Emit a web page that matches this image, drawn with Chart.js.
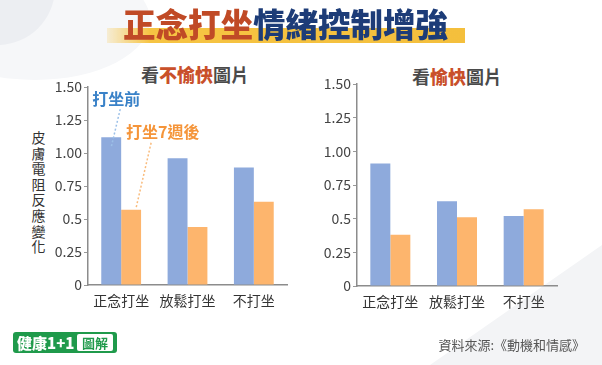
<!DOCTYPE html>
<html>
<head>
<meta charset="utf-8">
<script src="https://cdn.jsdelivr.net/npm/chart.js@4"></script>
<style>
  html, body { margin:0; padding:0; background:#fff; }
  #wrap { position:relative; width:602px; height:365px; overflow:hidden; background:#fff;
          font-family:"Noto Sans CJK TC","Noto Sans",sans-serif; }
  .blob { position:absolute; left:-60px; top:-70px; width:115px; height:115px; border-radius:50%; background:#eceef2; }
  .blob2 { position:absolute; left:-80px; top:-40px; width:230px; height:120px; border-radius:50%; background:#f6f7f9; }
  .tri { position:absolute; left:0; top:0; width:602px; height:365px; background:#f3f4f6;
         clip-path: polygon(602px 245px, 602px 365px, 430px 365px); }
  canvas { position:absolute; left:0; top:0; }
  #title { position:absolute; left:123px; top:-1px; font-size:32.5px; font-weight:900; white-space:nowrap; z-index:2; }
  #hl { position:absolute; left:107px; top:28px; width:358px; height:15px;
        background:linear-gradient(to right, rgba(246,196,67,0.2), #f6c443 12%, #f4bf3c 100%); z-index:1; }
  .sub { position:absolute; font-size:18px; font-weight:bold; color:#4a4a4a; white-space:nowrap; transform:translateX(-50%); }
  .sub b { color:#c9502a; }
  #ytitle { position:absolute; left:31px; top:130px; width:15px; font-size:14px; line-height:15.6px; color:#333; text-align:center; }
  #logo { position:absolute; left:13px; top:332px; width:104px; height:21px; background:#1f9a4b; border-radius:3px; }
  #logo .a { position:absolute; left:4px; top:0px; font-size:15px; line-height:21px; font-weight:900; color:#fff; white-space:nowrap; }
  #logo .b { position:absolute; left:64px; top:2px; width:36px; height:17px; background:#fff; border-radius:2px; font-size:13px; line-height:17px; color:#1f9a4b; text-align:center; font-weight:bold; }
  #src { position:absolute; right:17px; top:335px; font-size:13px; color:#555; white-space:nowrap; }
</style>
</head>
<body>
<div id="wrap">
  <div class="blob2"></div>
  <div class="blob"></div>
  <div class="tri"></div>
  <div id="hl"></div>
  <div id="title"><span style="color:#c04a26">正念打坐</span><span style="color:#1d3c78">情緒控制增強</span></div>
  <div class="sub" style="left:195px; top:61px;">看<b>不愉快</b>圖片</div>
  <div class="sub" style="left:457px; top:63px;">看<b>愉快</b>圖片</div>
  <div id="ytitle">皮<br>膚<br>電<br>阻<br>反<br>應<br>變<br>化</div>
  <canvas id="c1" width="602" height="365"></canvas>
  <canvas id="c2" width="602" height="365"></canvas>
  <div id="logo"><span class="a">健康1+1</span><span class="b">圖解</span></div>
  <div id="src">資料來源:《動機和情感》</div>
</div>
<script>
const categories = ["正念打坐", "放鬆打坐", "不打坐"];
const seriesNames = ["打坐前", "打坐7週後"];
const unpleasantBefore = [1.12, 0.96, 0.89];
const unpleasantAfter  = [0.57, 0.44, 0.63];
const pleasantBefore   = [0.91, 0.63, 0.52];
const pleasantAfter    = [0.38, 0.51, 0.57];
const tickValues = [0, 0.25, 0.5, 0.75, 1.0, 1.25, 1.5];
const tickLabels = ["0", "0.25", "0.5", "0.75", "1.00", "1.25", "1.50"];

const BLUE = "#8eaadc";
const ORANGE = "#fdb56d";
const FONT = "'Noto Sans CJK TC', 'Noto Sans', sans-serif";

function tickText(v) {
  const i = tickValues.findIndex(t => Math.abs(t - v) < 1e-6);
  return i >= 0 ? tickLabels[i] : "";
}

function makeOptions(padding) {
  return {
    responsive: false,
    animation: false,
    layout: { padding: padding },
    plugins: { legend: { display: false }, tooltip: { enabled: false } },
    scales: {
      x: {
        grid: { display: false, drawTicks: false },
        border: { display: true, color: "#8c8c8c", width: 1.5 },
        ticks: { color: "#333", font: { family: FONT, size: 14 }, padding: 7, maxRotation: 0 },
        afterFit: s => { s.height = 25; }
      },
      y: {
        min: 0, max: 1.5,
        grid: { drawOnChartArea: false, drawTicks: true, tickLength: 4, color: "#999", lineWidth: 1 },
        border: { display: true, color: "#8c8c8c", width: 1.5 },
        ticks: { stepSize: 0.25, color: "#444", font: { family: FONT, size: 14 }, padding: 2,
                 callback: v => tickText(v) },
        afterFit: s => { s.width = 58; }
      }
    }
  };
}

function makeData(before, after) {
  return {
    labels: categories,
    datasets: [
      { label: seriesNames[0], data: before, backgroundColor: BLUE, categoryPercentage: 0.6, barPercentage: 1.0 },
      { label: seriesNames[1], data: after, backgroundColor: ORANGE, categoryPercentage: 0.6, barPercentage: 1.0 }
    ]
  };
}

const annotate = {
  id: "annotate",
  afterDatasetsDraw(chart) {
    const ctx = chart.ctx;
    const b = chart.getDatasetMeta(0).data[0];
    const o = chart.getDatasetMeta(1).data[0];
    ctx.save();
    ctx.lineWidth = 1.5;
    ctx.setLineDash([2, 2]);
    ctx.strokeStyle = "#9cc0e8";
    ctx.beginPath();
    ctx.moveTo(b.x + 9, b.y - 28);
    ctx.lineTo(b.x, b.y + 10);
    ctx.stroke();
    ctx.strokeStyle = "#f9bb7c";
    ctx.beginPath();
    ctx.moveTo(o.x + 20, o.y - 67);
    ctx.lineTo(o.x + 5, o.y - 2);
    ctx.stroke();
    ctx.setLineDash([]);
    ctx.font = "bold 16px " + FONT;
    ctx.textBaseline = "middle";
    ctx.textAlign = "left";
    ctx.fillStyle = "#3a82c8";
    ctx.fillText(seriesNames[0], b.x - 19, b.y - 38);
    ctx.fillStyle = "#f5953a";
    ctx.fillText(seriesNames[1], o.x - 5, o.y - 78);
    ctx.restore();
  }
};

new Chart(document.getElementById("c1"), {
  type: "bar",
  data: makeData(unpleasantBefore, unpleasantAfter),
  options: makeOptions({ left: 30, top: 87, right: 315, bottom: 55 }),
  plugins: [annotate]
});

new Chart(document.getElementById("c2"), {
  type: "bar",
  data: makeData(pleasantBefore, pleasantAfter),
  options: makeOptions({ left: 299, top: 84, right: 45, bottom: 54 })
});
</script>
</body>
</html>
